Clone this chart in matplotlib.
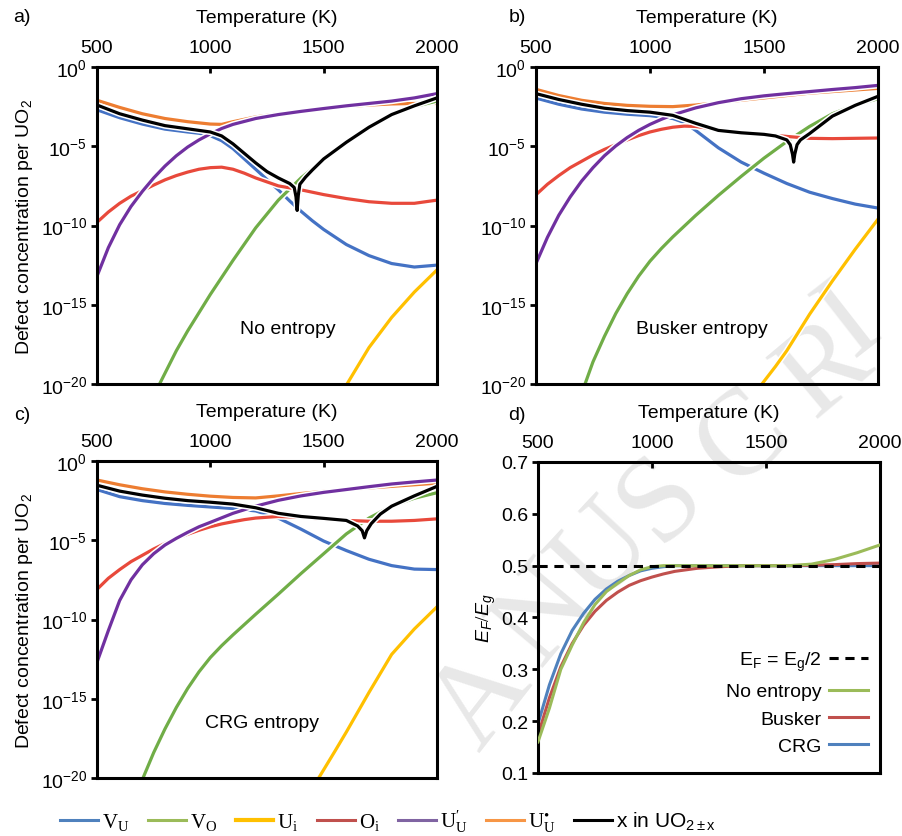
import numpy as np
import matplotlib.pyplot as plt
import matplotlib.patheffects as pe
from matplotlib.lines import Line2D

plt.rcParams['font.family'] = ['Liberation Sans', 'DejaVu Sans']
plt.rcParams['mathtext.fontset'] = 'custom'
plt.rcParams['mathtext.rm'] = 'Liberation Serif'
plt.rcParams['mathtext.it'] = 'Liberation Sans:italic'
plt.rcParams['mathtext.bf'] = 'Liberation Sans:bold'
plt.rcParams['axes.unicode_minus'] = False

# ---- data (log10 of concentration per UO2) ----
# panel a) no entropy
a_VU_T = [500, 600, 700, 800, 900, 950, 1000, 1050, 1100, 1150, 1200, 1250, 1300, 1350, 1400, 1450, 1500, 1600, 1700, 1800, 1900, 2000]
a_VU = [-2.7, -3.2, -3.6, -3.92, -4.1, -4.18, -4.33, -4.65, -5.15, -5.8, -6.45, -7.1, -7.75, -8.45, -9.1, -9.7, -10.25, -11.2, -11.9, -12.4, -12.62, -12.5]
a_VO_T = [776, 850, 900, 1000, 1100, 1200, 1300, 1400, 1500, 1600, 1700, 1800, 1900, 2000]
a_VO = [-20, -17.9, -16.65, -14.35, -12.2, -10.15, -8.4, -7.0, -5.85, -4.8, -3.85, -3.05, -2.5, -2.15]
a_Ui_T = [1603, 1700, 1800, 1900, 2000]
a_Ui = [-20, -17.7, -15.8, -14.2, -12.8]
a_Oi_T = [500, 550, 600, 650, 700, 750, 800, 850, 900, 950, 1000, 1050, 1100, 1150, 1200, 1300, 1400, 1500, 1600, 1700, 1800, 1900, 2000]
a_Oi = [-9.8, -9.15, -8.6, -8.15, -7.8, -7.45, -7.12, -6.85, -6.63, -6.45, -6.35, -6.32, -6.45, -6.7, -7.0, -7.5, -7.75, -8.05, -8.3, -8.5, -8.6, -8.6, -8.4]
a_UU1_T = [500, 550, 600, 650, 700, 750, 800, 850, 900, 950, 1000, 1050, 1100, 1200, 1300, 1400, 1500, 1600, 1700, 1800, 1900, 2000]
a_UU1 = [-13.2, -11.4, -9.95, -8.8, -7.85, -7.0, -6.25, -5.6, -5.05, -4.6, -4.22, -3.88, -3.62, -3.25, -3.0, -2.8, -2.62, -2.45, -2.3, -2.15, -1.95, -1.68]
a_UU2_T = [500, 600, 700, 800, 900, 1000, 1050, 1100, 1200, 1300, 1400, 1500, 1600, 1700, 1800, 1900, 2000]
a_UU2 = [-2.1, -2.55, -2.95, -3.25, -3.45, -3.6, -3.62, -3.45, -3.15, -2.95, -2.78, -2.62, -2.5, -2.4, -2.33, -2.3, -2.3]
a_x_T = [500, 600, 700, 800, 900, 1000, 1050, 1100, 1150, 1200, 1250, 1300, 1350, 1370, 1378, 1383, 1388, 1395, 1420, 1450, 1500, 1600, 1700, 1800, 1900, 2000]
a_x = [-2.4, -2.95, -3.35, -3.7, -3.9, -4.1, -4.35, -4.85, -5.45, -6.05, -6.6, -7.0, -7.35, -7.6, -8.2, -9.05, -8.1, -7.4, -6.95, -6.5, -5.8, -4.75, -3.8, -3.0, -2.45, -1.95]

# panel b) Busker entropy
b_VU_T = [500, 600, 700, 800, 900, 1000, 1100, 1150, 1200, 1300, 1400, 1500, 1600, 1700, 1800, 1900, 2000]
b_VU = [-1.96, -2.35, -2.65, -2.85, -2.98, -3.07, -3.25, -3.5, -4.0, -5.1, -6.0, -6.7, -7.35, -7.9, -8.3, -8.65, -8.9]
b_VO_T = [715, 750, 800, 850, 900, 950, 1000, 1050, 1100, 1200, 1300, 1400, 1500, 1600, 1700, 1800, 1900, 2000]
b_VO = [-20, -18.6, -17.0, -15.55, -14.3, -13.2, -12.25, -11.45, -10.72, -9.37, -8.1, -6.9, -5.75, -4.7, -3.75, -2.95, -2.4, -2.0]
b_Ui_T = [1491, 1550, 1600, 1700, 1800, 1900, 2000]
b_Ui = [-20, -18.9, -17.9, -15.6, -13.5, -11.5, -9.6]
b_Oi_T = [500, 550, 600, 650, 700, 750, 800, 850, 900, 950, 1000, 1050, 1100, 1150, 1200, 1250, 1300, 1400, 1500, 1600, 1700, 1800, 1900, 2000]
b_Oi = [-8.06, -7.4, -6.85, -6.35, -5.95, -5.55, -5.2, -4.9, -4.6, -4.33, -4.1, -3.93, -3.8, -3.73, -3.75, -3.85, -3.98, -4.15, -4.25, -4.38, -4.5, -4.52, -4.5, -4.48]
b_UU1_T = [500, 550, 600, 650, 700, 750, 800, 850, 900, 950, 1000, 1050, 1100, 1200, 1300, 1400, 1500, 1600, 1700, 1800, 1900, 2000]
b_UU1 = [-12.4, -10.75, -9.35, -8.2, -7.2, -6.35, -5.6, -4.98, -4.45, -4.0, -3.62, -3.3, -3.02, -2.58, -2.25, -2.0, -1.82, -1.68, -1.55, -1.42, -1.3, -1.16]
b_UU2_T = [500, 600, 700, 800, 900, 1000, 1100, 1200, 1300, 1400, 1500, 1600, 1700, 1800, 1900, 2000]
b_UU2 = [-1.41, -1.8, -2.1, -2.3, -2.42, -2.48, -2.5, -2.4, -2.25, -2.1, -1.95, -1.8, -1.65, -1.55, -1.45, -1.35]
b_x_T = [500, 600, 700, 800, 900, 1000, 1100, 1200, 1300, 1400, 1500, 1550, 1600, 1615, 1625, 1630, 1635, 1645, 1660, 1700, 1800, 1900, 2000]
b_x = [-1.68, -2.05, -2.35, -2.6, -2.75, -2.85, -3.05, -3.55, -4.0, -4.15, -4.25, -4.35, -4.6, -4.9, -5.5, -6.0, -5.5, -4.9, -4.6, -4.2, -3.1, -2.42, -1.85]

# panel c) CRG entropy
c_VU_T = [500, 600, 700, 800, 900, 1000, 1100, 1200, 1300, 1400, 1500, 1600, 1700, 1800, 1900, 2000]
c_VU = [-1.8, -2.25, -2.5, -2.68, -2.8, -2.9, -3.0, -3.15, -3.6, -4.3, -5.05, -5.65, -6.2, -6.6, -6.82, -6.85]
c_VO_T = [703, 750, 800, 850, 900, 950, 1000, 1050, 1100, 1200, 1300, 1400, 1500, 1600, 1700, 1800, 1900, 2000]
c_VO = [-20, -18.4, -16.9, -15.55, -14.35, -13.3, -12.4, -11.65, -10.97, -9.67, -8.4, -7.1, -5.85, -4.6, -3.6, -2.85, -2.35, -2.0]
c_Ui_T = [1478, 1550, 1600, 1700, 1800, 1900, 2000]
c_Ui = [-20, -18.3, -17.1, -14.6, -12.2, -10.6, -9.2]
c_Oi_T = [500, 550, 600, 650, 700, 750, 800, 850, 900, 950, 1000, 1050, 1100, 1150, 1200, 1300, 1400, 1500, 1600, 1700, 1800, 1900, 2000]
c_Oi = [-8.1, -7.4, -6.85, -6.35, -5.95, -5.55, -5.2, -4.9, -4.62, -4.37, -4.15, -3.97, -3.83, -3.7, -3.6, -3.5, -3.55, -3.68, -3.75, -3.8, -3.8, -3.75, -3.65]
c_UU1_T = [500, 550, 600, 650, 700, 750, 800, 850, 900, 950, 1000, 1100, 1200, 1300, 1400, 1500, 1600, 1700, 1800, 1900, 2000]
c_UU1 = [-12.7, -10.7, -8.8, -7.5, -6.55, -5.85, -5.3, -4.88, -4.5, -4.15, -3.87, -3.3, -2.85, -2.48, -2.2, -1.98, -1.8, -1.62, -1.45, -1.32, -1.2]
c_UU2_T = [500, 600, 700, 800, 900, 1000, 1100, 1200, 1300, 1400, 1500, 1600, 1700, 1800, 1900, 2000]
c_UU2 = [-1.2, -1.5, -1.75, -1.95, -2.1, -2.22, -2.3, -2.33, -2.2, -2.05, -1.92, -1.8, -1.7, -1.6, -1.5, -1.4]
c_x_T = [500, 600, 700, 800, 900, 1000, 1100, 1200, 1300, 1400, 1500, 1600, 1650, 1670, 1680, 1690, 1710, 1750, 1800, 1900, 2000]
c_x = [-1.53, -1.9, -2.15, -2.35, -2.5, -2.6, -2.72, -2.95, -3.3, -3.5, -3.62, -3.75, -4.1, -4.4, -4.85, -4.4, -3.95, -3.35, -2.85, -2.2, -1.6]

# panel d) Fermi level position
d_T = [500, 550, 600, 650, 700, 750, 800, 850, 900, 950, 1000, 1050, 1100, 1200, 1300, 1400, 1500, 1600, 1700, 1800, 1900, 2000]
d_none = [0.16, 0.225, 0.3, 0.347, 0.39, 0.425, 0.45, 0.466, 0.481, 0.492, 0.498, 0.5, 0.5, 0.5, 0.5, 0.5, 0.5, 0.5, 0.503, 0.512, 0.525, 0.54]
d_busker = [0.173, 0.245, 0.305, 0.35, 0.385, 0.412, 0.433, 0.449, 0.462, 0.471, 0.478, 0.484, 0.489, 0.495, 0.498, 0.5, 0.5, 0.5, 0.501, 0.502, 0.504, 0.505]
d_crg = [0.195, 0.27, 0.33, 0.375, 0.408, 0.435, 0.455, 0.47, 0.481, 0.49, 0.495, 0.498, 0.5, 0.5, 0.5, 0.5, 0.5, 0.5, 0.5, 0.5, 0.5, 0.5]

labels = [r'$\mathrm{V_U}$', r'$\mathrm{V_O}$', r'$\mathrm{U_i}$', r'$\mathrm{O_i}$',
          r"$\mathrm{U_U^{\prime}}$", r'$\mathrm{U_U^{•}}$', r'x in UO$\mathregular{_{2\pm x}}$']

c_blue, c_green, c_yellow, c_red = '#4472C4', '#70AD47', '#FFC000', '#E8493B'
c_purple, c_orange = '#7030A0', '#ED7D31'

W, H = 902, 837
fig = plt.figure(figsize=(W / 100, H / 100), dpi=100)

# faint "MANUSCRIPT" stamp behind the panels
stamp = [('A', 483, 700, 52), ('N', 545, 615, 50), ('U', 605, 555, 47), ('S', 662, 500, 45),
         ('C', 745, 440, 42), ('R', 825, 370, 40), ('I', 850, 322, 38)]
for ch, px, py, rot in stamp:
    fig.text(px / W, 1 - py / H, ch, fontsize=88, color='#e8e8e8', family='Liberation Serif',
             ha='center', va='center', rotation=rot, zorder=-5)


def add_ax(l, r, t, b):
    ax = fig.add_axes([l / W, 1 - b / H, (r - l) / W, (b - t) / H])
    ax.patch.set_alpha(0)
    return ax


def style(ax):
    for s in ax.spines.values():
        s.set_linewidth(2.2)
    ax.xaxis.tick_top()
    ax.xaxis.set_label_position('top')
    ax.set_xlim(500, 2000)
    ax.set_xticks([500, 1000, 1500, 2000])
    ax.tick_params(axis='x', direction='in', length=4, width=2, labelsize=14, pad=8)
    ax.tick_params(axis='y', direction='out', length=4, width=2, labelsize=14, pad=3)
    ax.set_xlabel('Temperature (K)', fontsize=14, labelpad=12)


halo = [pe.Stroke(linewidth=4.5, foreground='white'), pe.Normal()]


def defect_panel(ax, series, name, tx, ylabel=True):
    style(ax)
    ax.set_yscale('log')
    ax.set_ylim(1e-20, 1)
    ax.set_yticks([1e0, 1e-5, 1e-10, 1e-15, 1e-20])
    ax.yaxis.set_minor_locator(plt.NullLocator())
    for T, v, col in series:
        ax.plot(T, 10 ** np.array(v), color=col, lw=2.3, path_effects=halo)
    ax.text(tx, 0.175, name, transform=ax.transAxes, ha='center', va='center', fontsize=14)
    if ylabel:
        ax.set_ylabel(r'Defect concentration per UO$\mathregular{_2}$', fontsize=14, labelpad=4)


def series_of(VU_T, VU, VO_T, VO, Ui_T, Ui, Oi_T, Oi, U1_T, U1, U2_T, U2, x_T, x):
    return [(U2_T, U2, c_orange), (VU_T, VU, c_blue), (VO_T, VO, c_green),
            (Ui_T, Ui, c_yellow), (Oi_T, Oi, c_red), (U1_T, U1, c_purple), (x_T, x, 'black')]


axa = add_ax(97, 437, 68, 385)
defect_panel(axa, series_of(a_VU_T, a_VU, a_VO_T, a_VO, a_Ui_T, a_Ui, a_Oi_T, a_Oi,
                            a_UU1_T, a_UU1, a_UU2_T, a_UU2, a_x_T, a_x), 'No entropy', 0.56)
axb = add_ax(536, 878, 68, 385)
defect_panel(axb, series_of(b_VU_T, b_VU, b_VO_T, b_VO, b_Ui_T, b_Ui, b_Oi_T, b_Oi,
                            b_UU1_T, b_UU1, b_UU2_T, b_UU2, b_x_T, b_x), 'Busker entropy', 0.485, ylabel=False)
axc = add_ax(97, 437, 462, 779)
defect_panel(axc, series_of(c_VU_T, c_VU, c_VO_T, c_VO, c_Ui_T, c_Ui, c_Oi_T, c_Oi,
                            c_UU1_T, c_UU1, c_UU2_T, c_UU2, c_x_T, c_x), 'CRG entropy', 0.485)

axd = add_ax(538, 880, 463, 774)
style(axd)
axd.set_ylim(0.1, 0.7)
axd.set_yticks([0.1, 0.2, 0.3, 0.4, 0.5, 0.6, 0.7])
axd.set_yticklabels(['0.1', '0.2', '0.3', '0.4', '0.5', '0.6', '0.7'])
axd.plot(d_T, d_none, color='#9BBB59', lw=2.2, label='No entropy', zorder=3)
axd.plot(d_T, d_busker, color='#C0504D', lw=2.2, label='Busker', zorder=2)
axd.plot(d_T, d_crg, color='#4F81BD', lw=2.2, label='CRG', zorder=1)
axd.axhline(0.5, color='black', lw=2.2, ls=(0, (3, 2.2)), zorder=4,
            label=r'E$\mathregular{_F}$ = E$\mathregular{_g}$/2')
axd.set_ylabel(r'$E_F/E_g$', fontsize=14, labelpad=2)
h, l = axd.get_legend_handles_labels()
order = [3, 0, 1, 2]
axd.legend([h[i] for i in order], [l[i] for i in order], loc='lower right', frameon=False,
           markerfirst=False, fontsize=14, handlelength=2.0, handletextpad=0.4,
           labelspacing=0.5, borderaxespad=0.2, bbox_to_anchor=(1.0, 0.02))

# panel tags
for txt, px, py in [('a)', 22, 18), ('b)', 517, 17), ('c)', 22, 415), ('d)', 517, 415)]:
    fig.text(px / W, 1 - py / H, txt, fontsize=14, ha='center', va='center')

# common legend at the bottom
leg_cols = ['#4F81BD', '#9BBB59', '#FFC000', '#C0504D', '#8064A2', '#F79646', 'black']
handles = [Line2D([], [], color=c, lw=3 if c == '#FFC000' else 2.2) for c in leg_cols]
fig.legend(handles, labels, loc='center', bbox_to_anchor=(388 / W, 1 - 822 / H), ncol=7,
           frameon=False, fontsize=15, handlelength=1.8, handletextpad=0.2, columnspacing=0.9)

fig.savefig('out.png', dpi=100)
